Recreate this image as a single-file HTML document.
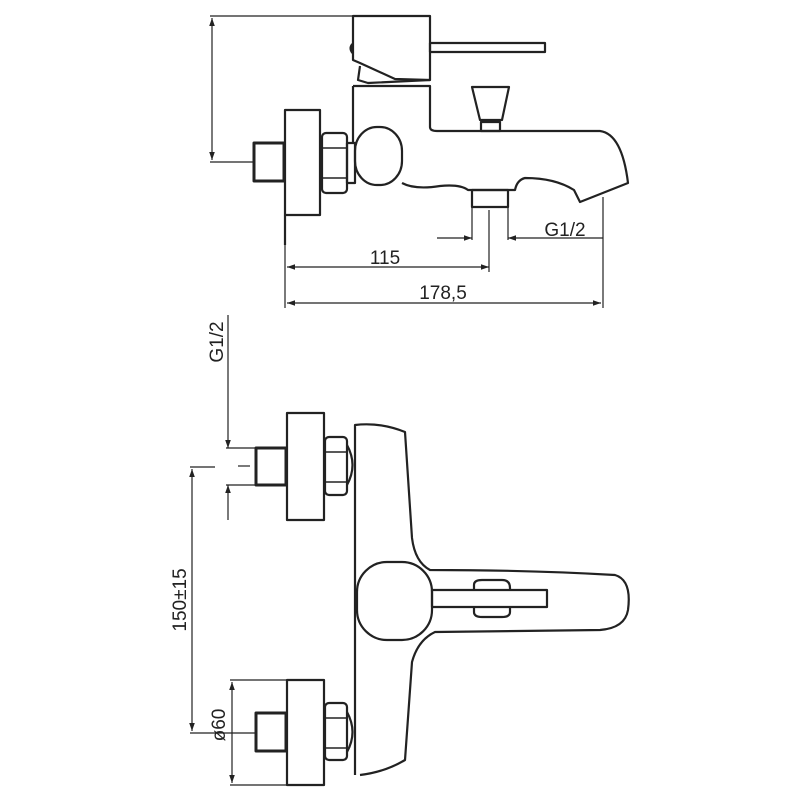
<!DOCTYPE html>
<html><head><meta charset="utf-8"><style>
html,body{margin:0;padding:0;background:#fff;}
svg{display:block}
text{font-family:"Liberation Sans",sans-serif;fill:#222}
</style></head><body>
<svg width="800" height="800" viewBox="0 0 800 800" xmlns="http://www.w3.org/2000/svg">
<defs>
<marker id="a" viewBox="0 0 10 10" refX="10" refY="5" markerWidth="12" markerHeight="8" markerUnits="userSpaceOnUse" orient="auto-start-reverse"><path d="M0,1.5 L10,5 L0,8.5 z" fill="#222"/></marker>
</defs>
<g fill="none" stroke="#222" stroke-width="2.2" stroke-linejoin="round">
<line x1="210" y1="16" x2="430" y2="16" stroke-width="1.2"/>
<line x1="210" y1="162" x2="255" y2="162" stroke-width="1.2"/>
<line x1="212" y1="18" x2="212" y2="160" stroke-width="1.2" marker-start="url(#a)" marker-end="url(#a)"/>
<path d="M353,16 H430 V80 L395,79 L360,63 L353,60 Z"/>
<path d="M353,44 Q349,48 353,53" stroke-width="3"/>
<path d="M360,66 L358,80 L368,83 L430,80"/>
<rect x="430" y="43" width="115" height="9"/>
<path d="M353,86 H430 V127 Q430,131 437,131 H600 Q622,134 628,183 L580,202 L574,190 Q555,178 525,178 Q517,180 515,190 H468 Q460,184 440,186 Q415,190 402,183"/>
<line x1="353" y1="86" x2="353" y2="143"/>
<path d="M472,87 H509 L502,120 H480 Z"/>
<rect x="481" y="122" width="19" height="9"/>
<rect x="355" y="127" width="47" height="58" rx="22" ry="24"/>
<rect x="322" y="133" width="25" height="60" rx="4"/>
<line x1="322" y1="148" x2="347" y2="148" stroke-width="1.6"/><line x1="322" y1="178" x2="347" y2="178" stroke-width="1.6"/>
<rect x="347" y="143" width="8" height="40"/>
<rect x="285" y="110" width="35" height="105"/>
<line x1="285" y1="215" x2="285" y2="245"/>
<rect x="254" y="143" width="30" height="38" stroke-width="3"/>
<rect x="472" y="190" width="36" height="17"/>
<line x1="472" y1="207" x2="472" y2="240" stroke-width="1.2"/>
<line x1="508" y1="207" x2="508" y2="240" stroke-width="1.2"/>
<line x1="489" y1="210" x2="489" y2="272" stroke-width="1.2"/>
<line x1="437" y1="238" x2="472" y2="238" stroke-width="1.2" marker-end="url(#a)"/>
<line x1="603" y1="238" x2="508" y2="238" stroke-width="1.2" marker-end="url(#a)"/>
<line x1="603" y1="197" x2="603" y2="308" stroke-width="1.2"/>
<line x1="287" y1="267" x2="489" y2="267" stroke-width="1.2" marker-start="url(#a)" marker-end="url(#a)"/>
<line x1="285" y1="245" x2="285" y2="308" stroke-width="1.2"/>
<line x1="287" y1="303" x2="601" y2="303" stroke-width="1.2" marker-start="url(#a)" marker-end="url(#a)"/>

<line x1="228" y1="315" x2="228" y2="448" stroke-width="1.2" marker-end="url(#a)"/>
<line x1="228" y1="520" x2="228" y2="485" stroke-width="1.2" marker-end="url(#a)"/>
<line x1="226" y1="448" x2="256" y2="448" stroke-width="1.2"/>
<line x1="226" y1="485" x2="256" y2="485" stroke-width="1.2"/>
<line x1="238" y1="466" x2="250" y2="466" stroke-width="1.2"/>
<rect x="256" y="448" width="30" height="37" stroke-width="3"/>
<rect x="287" y="413" width="37" height="107"/>
<rect x="325" y="437" width="22" height="58" rx="4"/>
<line x1="325" y1="452" x2="347" y2="452" stroke-width="1.6"/><line x1="325" y1="482" x2="347" y2="482" stroke-width="1.6"/>
<path d="M347,445 Q358,465 347,485"/>
<path d="M355,775 V425 Q380,422 405,432 L412,538 Q415,562 430,570 Q530,570 615,575 Q632,580 628,610 Q625,628 600,630 L435,632 Q418,640 412,662 L405,760 Q385,772 360,775"/>
<rect x="357" y="562" width="75" height="78" rx="30" ry="30"/>
<rect x="432" y="590" width="115" height="17"/>
<path d="M474,590 V585 Q474,580 482,580 H502 Q510,580 510,588 V590 M474,607 V612 Q474,617 482,617 H502 Q510,617 510,612 V607"/>
<line x1="190" y1="467" x2="215" y2="467" stroke-width="1.2"/>
<line x1="190" y1="733" x2="256" y2="733" stroke-width="1.2"/>
<line x1="192" y1="469" x2="192" y2="731" stroke-width="1.2" marker-start="url(#a)" marker-end="url(#a)"/>
<rect x="256" y="713" width="30" height="38" stroke-width="3"/>
<rect x="287" y="680" width="37" height="105"/>
<rect x="325" y="703" width="22" height="57" rx="4"/>
<line x1="325" y1="718" x2="347" y2="718" stroke-width="1.6"/><line x1="325" y1="748" x2="347" y2="748" stroke-width="1.6"/>
<path d="M347,712 Q358,732 347,752"/>
<line x1="230" y1="680" x2="287" y2="680" stroke-width="1.2"/>
<line x1="230" y1="785" x2="287" y2="785" stroke-width="1.2"/>
<line x1="232" y1="682" x2="232" y2="783" stroke-width="1.2" marker-start="url(#a)" marker-end="url(#a)"/>
</g>
<text x="385" y="264" font-size="19" text-anchor="middle">115</text>
<text x="443" y="299" font-size="19" text-anchor="middle">178,5</text>
<text x="565" y="236" font-size="19" text-anchor="middle">G1/2</text>
<text transform="translate(223,342) rotate(-90)" font-size="19" text-anchor="middle">G1/2</text>
<text transform="translate(186,600) rotate(-90)" font-size="19" text-anchor="middle">150±15</text>
<text transform="translate(225,725) rotate(-90)" font-size="19" text-anchor="middle">ø60</text>
</svg>
</body></html>
